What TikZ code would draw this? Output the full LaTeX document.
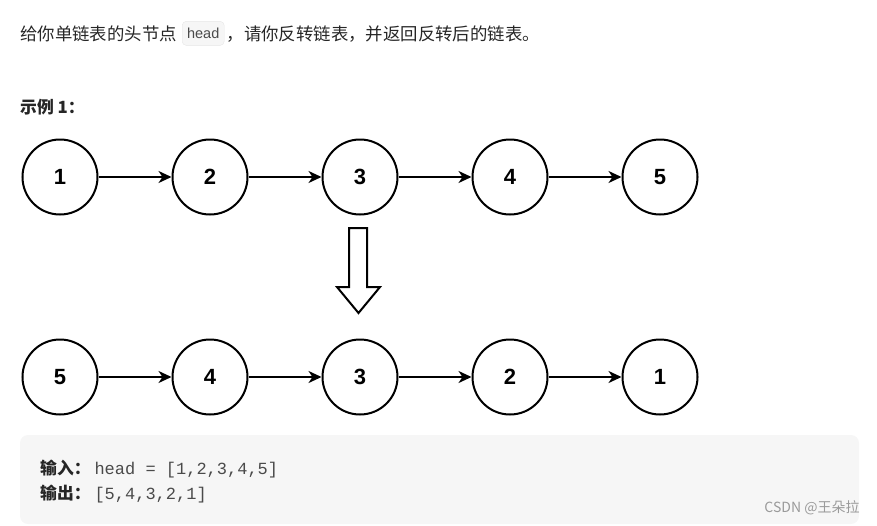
\documentclass[tikz,border=0pt]{standalone}
\usepackage{fontspec}
\setmainfont{Liberation Sans}
\setmonofont{Liberation Mono}
\newfontfamily\cjk{Noto Sans CJK SC}
\usetikzlibrary{arrows.meta,positioning}
\definecolor{ink}{HTML}{262626}
\definecolor{codeink}{HTML}{4A4A4A}
\definecolor{panelgray}{HTML}{F6F6F6}
\definecolor{badgeline}{HTML}{E6E6E6}
\definecolor{stampgray}{HTML}{9A9A9A}

\begin{document}
\begin{tikzpicture}[x=1pt, y=-1pt]
  \tikzset{item/.style={draw, circle, line width=2pt, minimum size=75pt, inner sep=0pt, font=\fontsize{22}{26}\selectfont\bfseries},
    link/.style={-{Stealth[length=13pt, width=12pt, inset=4pt]}, line width=2pt},
    say/.style={inner sep=0pt, anchor=base west, text=ink, font=\cjk\fontsize{17.4}{20}\selectfont},
    key/.style={inner sep=0pt, anchor=base west, text=ink, font=\cjk\bfseries\fontsize{16.8}{20}\selectfont},
    code/.style={inner sep=0pt, anchor=base west, text=codeink, font=\ttfamily\fontsize{17}{20}\selectfont}}
  \useasboundingbox (0,0) rectangle (877,525);

  % the task
  \node[say] (intro) at (20, 40) {给你单链表的头节点};
  \node[draw=badgeline, fill=panelgray, rounded corners=4pt, minimum width=42pt, minimum height=24pt, inner sep=0pt,
    text=codeink, font=\fontsize{14.5}{16}\selectfont, right=5pt of intro.east] (badge) {head};
  \node[say] (rest) at ([xshift=2pt]badge.east |- intro.base) {，请你反转链表，并返回反转后的链表。};
  \node[key] (title) at (20, 113) {示例 1：};

  % list before
  \node[item] (n1) at (60, 177)  {1};
  \node[item] (n2) at (210, 177) {2};
  \node[item] (n3) at (360, 177) {3};
  \node[item] (n4) at (510, 177) {4};
  \node[item] (n5) at (660, 177) {5};
  \draw[link] (n1) -- (n2);
  \draw[link] (n2) -- (n3);
  \draw[link] (n3) -- (n4);
  \draw[link] (n4) -- (n5);

  % hollow arrow
  \draw[line width=2pt, fill=white, line join=miter] (349,228) -- (367,228) -- (367,287) -- (380,287)
    -- (358.5,313) -- (337,287) -- (349,287) -- cycle;

  % list after
  \node[item] (m5) at (60, 377)  {5};
  \node[item] (m4) at (210, 377) {4};
  \node[item] (m3) at (360, 377) {3};
  \node[item] (m2) at (510, 377) {2};
  \node[item] (m1) at (660, 377) {1};
  \draw[link] (m5) -- (m4);
  \draw[link] (m4) -- (m3);
  \draw[link] (m3) -- (m2);
  \draw[link] (m2) -- (m1);

  % example box
  \fill[panelgray, rounded corners=8pt] (20,435) rectangle (859,524);
  \node[key] (inkey) at (40, 474) {输入：};
  \node[code] (inval) at ([xshift=3.5pt]inkey.base east) {head = [1,2,3,4,5]};
  \node[key] (outkey) at (40, 499) {输出：};
  \node[code] (outval) at ([xshift=3.5pt]outkey.base east) {[5,4,3,2,1]};
  \node[text=stampgray, inner sep=0pt, font=\cjk\fontsize{14}{16}\selectfont] (stamp) at (812, 508) {CSDN @王朵拉};
\end{tikzpicture}
\end{document}
